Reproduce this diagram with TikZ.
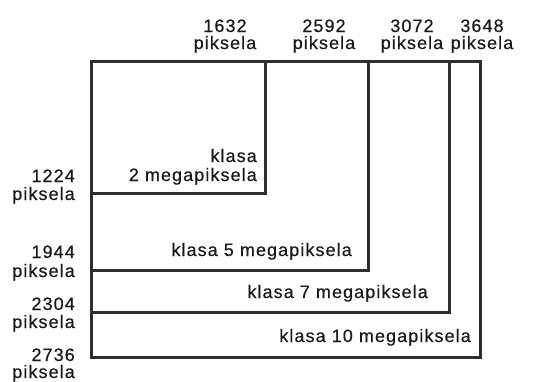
\documentclass[tikz,border=0pt]{standalone}
\usepackage{fontspec}
\setmainfont[LetterSpace=6,FakeBold=0.4]{Liberation Sans}
\begin{document}
\begin{tikzpicture}[x=1pt,y=-1pt,
  frame/.style={draw=black!82, line width=3pt, line join=miter},
  lbl/.style={inner sep=0pt, anchor=base, font=\fontsize{18}{18}\selectfont, text=black!90},
  lblr/.style={lbl, anchor=base east}]
\useasboundingbox (0,0) rectangle (534,381);
% nested picture areas, all sharing the top-left corner
\coordinate (o) at (91,61);
\draw[frame] (o) rectangle (480,357);
\draw[frame] (o) rectangle (449,312);
\draw[frame] (o) rectangle (368,270);
\draw[frame] (o) rectangle (265,193);
% widths along the top
\node[lbl] (w1) at (225,32) {1632};
\node[lbl] (w1p) at (225,49) {piksela};
\node[lbl] (w2) at (324,32) {2592};
\node[lbl] (w2p) at (324,49) {piksela};
\node[lbl] (w3) at (412,32) {3072};
\node[lbl] (w3p) at (412,49) {piksela};
\node[lbl] (w4) at (482,32) {3648};
\node[lbl] (w4p) at (482,49) {piksela};
% heights along the left
\node[lblr] (h1) at (75,182) {1224};
\node[lblr] (h1p) at (75,200) {piksela};
\node[lblr] (h2) at (75,258) {1944};
\node[lblr] (h2p) at (75,277) {piksela};
\node[lblr] (h3) at (75,310) {2304};
\node[lblr] (h3p) at (75,328) {piksela};
\node[lblr] (h4) at (75,361) {2736};
\node[lblr] (h4p) at (75,378) {piksela};
% class names inside each area
\node[lblr] (c2a) at (257,162) {klasa};
\node[lblr] (c2b) at (257,181) {2 megapiksela};
\node[lblr] (c5) at (352,256) {klasa 5 megapiksela};
\node[lblr] (c7) at (428,298) {klasa 7 megapiksela};
\node[lblr] (c10) at (471,342) {klasa 10 megapiksela};
\end{tikzpicture}
\end{document}
